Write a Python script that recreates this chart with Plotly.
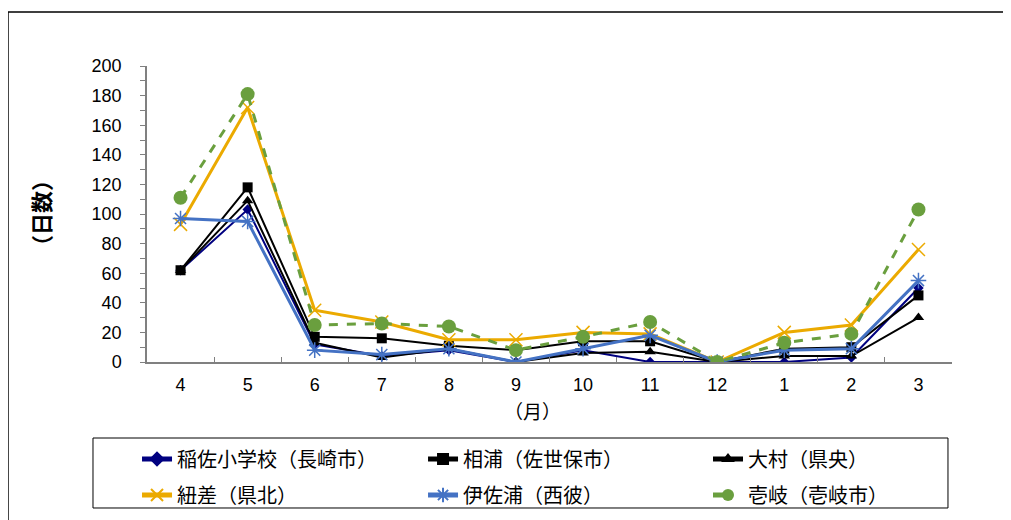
import plotly.graph_objects as go

months = ["4", "5", "6", "7", "8", "9", "10", "11", "12", "1", "2", "3"]
inasa = [62, 103, 12, 4, 8, 0, 8, 0, 0, 0, 3, 50]
ainoura = [62, 118, 17, 16, 11, 8, 14, 14, 0, 9, 10, 45]
omura = [62, 109, 13, 3, 9, 0, 6, 7, 0, 4, 4, 30]
hiyasa = [93, 172, 35, 27, 15, 15, 20, 19, 0, 20, 25, 76]
isaura = [97, 95, 8, 5, 9, 0, 9, 18, 0, 8, 9, 55]
iki = [111, 181, 25, 26, 24, 8, 17, 27, 0, 13, 19, 103]

names = ["稲佐小学校（長崎市）", "相浦（佐世保市）", "大村（県央）",
         "紐差（県北）", "伊佐浦（西彼）", "壱岐（壱岐市）"]

JP = "Noto Sans CJK JP"
LAT = "Liberation Sans"

fig = go.Figure()
styles = [
    (inasa, dict(color="#000080", width=2), dict(symbol="diamond", size=8, color="#000080")),
    (ainoura, dict(color="#000000", width=2), dict(symbol="square", size=10, color="#000000")),
    (omura, dict(color="#000000", width=2), dict(symbol="triangle-up", size=10, color="#000000")),
    (hiyasa, dict(color="#EBAA00", width=3), dict(symbol="x-thin-open", size=13, color="#EBAA00", line=dict(width=1.5, color="#EBAA00"))),
    (isaura, dict(color="#4472C4", width=3), dict(symbol="asterisk-open", size=13, color="#4472C4", line=dict(width=1.5, color="#4472C4"))),
    (iki, dict(color="#6A9F3E", width=3, dash="dash"), dict(symbol="circle", size=14, color="#6A9F3E")),
]
legend_ids = ["legend", "legend2", "legend3", "legend4", "legend5", "legend6"]
for (vals, ln, mk), nm, lg in zip(styles, names, legend_ids):
    fig.add_trace(go.Scatter(x=months, y=vals, name=nm, mode="lines+markers",
                             line=ln, marker=mk, legend=lg))

col_x = [-0.0124, 0.3429, 0.6969]
row_y = [-0.3277, -0.4493]
leg_layout = {}
for i, lg in enumerate(legend_ids):
    leg_layout[lg] = dict(x=col_x[i % 3], y=row_y[i // 3], xanchor="left", yanchor="middle",
                          orientation="h", bgcolor="rgba(0,0,0,0)", borderwidth=0,
                          font=dict(family=JP, size=20, color="black"),
                          itemsizing="constant")

fig.update_layout(
    width=1011, height=520,
    margin=dict(l=139, r=67, t=58, b=166),
    paper_bgcolor="white", plot_bgcolor="white",
    font=dict(family=LAT, size=18, color="black"),
    showlegend=True,
    **leg_layout,
    xaxis=dict(type="category", range=[-0.5, 11.5], showgrid=False, showline=True,
               linecolor="#808080", linewidth=1.5, ticks="inside", tickson="boundaries",
               ticklen=5, tickcolor="#808080", ticklabelstandoff=6,
               tickfont=dict(family=LAT, size=18, color="black"), zeroline=False),
    yaxis=dict(range=[0, 200], dtick=20, showgrid=False, showline=True,
               linecolor="#808080", linewidth=1.5, ticks="outside", ticklen=5,
               tickcolor="#808080", ticklabelstandoff=15, zeroline=False,
               tickfont=dict(family=LAT, size=18, color="black"),
               minor=dict(dtick=10, ticks="outside", ticklen=5, tickcolor="#808080")),
    annotations=[
        dict(text="<b>（日数）</b>", x=-0.1329, y=0.5034, xref="paper", yref="paper",
             xanchor="center", yanchor="middle", showarrow=False,
             textangle=-90, font=dict(family=JP, size=22, color="black")),
        dict(text="（月）", x=0.4795, y=-0.1622, xref="paper", yref="paper",
             xanchor="center", yanchor="middle", showarrow=False,
             font=dict(family=JP, size=19, color="black")),
    ],
    shapes=[
        dict(type="rect", xref="paper", yref="paper", x0=-0.1727, x1=1.1, y0=-0.7, y1=1.1824,
             line=dict(color="black", width=1.5), layer="below"),
        dict(type="rect", xref="paper", yref="paper", x0=-0.0671, x1=0.995, y0=-0.4932, y1=-0.2568,
             line=dict(color="black", width=1), layer="below"),
    ],
)

fig.write_html("out.html")
